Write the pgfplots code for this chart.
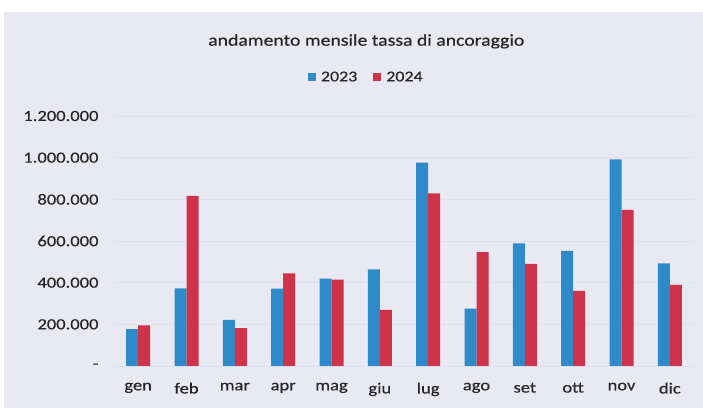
\documentclass[border=0pt]{standalone}
\usepackage{pgfplots}
\pgfplotsset{compat=1.18}
\usepackage{fontspec}
\setmainfont{Carlito}[FakeStretch=1.2, FakeBold=0.4]

\definecolor{bgc}{HTML}{E8E9F3}
\definecolor{gridc}{HTML}{DFE1EB}
\definecolor{c2023}{HTML}{2E8AC9}
\definecolor{c2024}{HTML}{CF3349}
\definecolor{txt}{HTML}{262626}

\begin{document}
\begin{tikzpicture}
  % page and chart background
  \fill[white] (0,0) rectangle (703bp,408bp);
  \fill[bgc] (4bp,0) rectangle (703bp,396bp);

  \begin{axis}[
      at={(114bp,42bp)}, anchor=south west,
      scale only axis,
      width=580bp, height=250bp,
      ybar=0pt, bar width=12bp,
      xmin=-0.5, xmax=11.5,
      ymin=0, ymax=1200000,
      xtick={0,...,11},
      xticklabels={gen,feb,mar,apr,mag,giu,lug,ago,set,ott,nov,dic},
      ytick={0,200000,...,1200000},
      yticklabels={-,200.000,400.000,600.000,800.000,1.000.000,1.200.000},
      scaled y ticks=false,
      axis line style={draw=none},
      major tick style={draw=none},
      ymajorgrids, grid style={gridc, line width=0.8pt},
      tick label style={font=\fontsize{15.5}{18}\selectfont, text=txt},
      yticklabel style={xshift=-12bp},
      xticklabel style={yshift=-9bp},
      title={andamento mensile tassa di ancoraggio},
      title style={font=\fontsize{16.5}{19}\selectfont, text=txt, at={(0.435,1)}, yshift=58bp},
      legend style={at={(0.435,1.0)}, anchor=south, yshift=29bp, draw=none, fill=none,
        legend columns=2, font=\fontsize{15}{17}\selectfont, text=txt,
        /tikz/every odd column/.append style={column sep=3bp},
        /tikz/every even column/.append style={column sep=14bp}},
      legend image code/.code={\fill[#1] (0bp,-4bp) rectangle (8bp,4bp);},
    ]
    \addplot[fill=c2023, draw=none] coordinates {
      (0,177000) (1,373000) (2,221000) (3,371000) (4,419000) (5,464000)
      (6,976000) (7,275000) (8,589000) (9,552000) (10,992000) (11,493000)
    };
    \addlegendentry{2023}
    \addplot[fill=c2024, draw=none] coordinates {
      (0,195000) (1,816000) (2,182000) (3,445000) (4,414000) (5,269000)
      (6,829000) (7,546000) (8,490000) (9,360000) (10,749000) (11,389000)
    };
    \addlegendentry{2024}
  \end{axis}
\end{tikzpicture}
\end{document}
